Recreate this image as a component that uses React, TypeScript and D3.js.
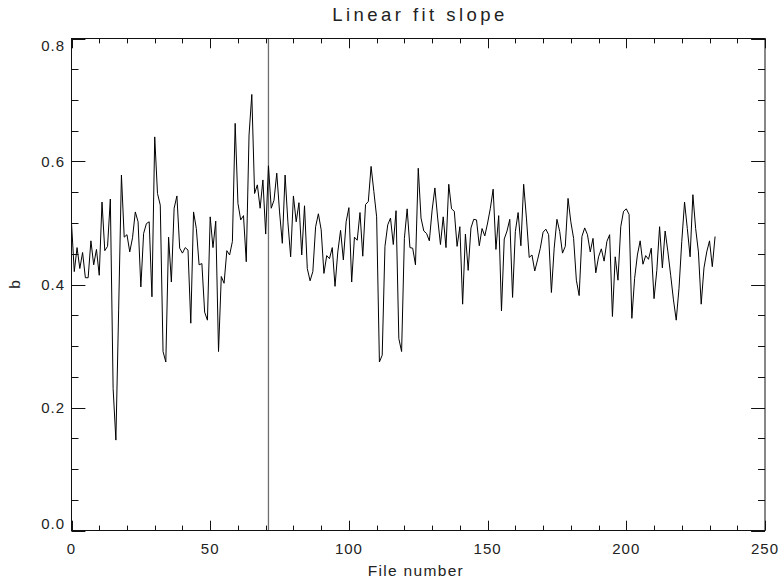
import React from 'react';
import * as d3 from 'd3';

// b values (linear fit slope) per file number 0..232
const slopeValues: number[] = [
  0.500, 0.421, 0.460, 0.426, 0.452, 0.411, 0.411, 0.471, 0.432, 0.457,
  0.415, 0.534, 0.455, 0.462, 0.539, 0.231, 0.147, 0.360, 0.578, 0.477,
  0.481, 0.453, 0.476, 0.518, 0.502, 0.396, 0.483, 0.499, 0.502, 0.380,
  0.640, 0.548, 0.529, 0.291, 0.274, 0.477, 0.404, 0.524, 0.544, 0.459,
  0.451, 0.460, 0.456, 0.337, 0.518, 0.491, 0.432, 0.434, 0.355, 0.342,
  0.510, 0.460, 0.503, 0.291, 0.413, 0.402, 0.455, 0.448, 0.470, 0.662,
  0.532, 0.505, 0.512, 0.437, 0.643, 0.709, 0.548, 0.562, 0.524, 0.570,
  0.482, 0.593, 0.524, 0.537, 0.581, 0.518, 0.467, 0.578, 0.502, 0.445,
  0.544, 0.502, 0.533, 0.448, 0.528, 0.426, 0.406, 0.421, 0.494, 0.515,
  0.489, 0.418, 0.447, 0.442, 0.460, 0.397, 0.453, 0.488, 0.440, 0.502,
  0.525, 0.404, 0.477, 0.472, 0.517, 0.446, 0.530, 0.535, 0.592, 0.551,
  0.510, 0.274, 0.285, 0.462, 0.497, 0.508, 0.465, 0.520, 0.312, 0.291,
  0.475, 0.523, 0.460, 0.459, 0.432, 0.589, 0.508, 0.487, 0.483, 0.471,
  0.521, 0.557, 0.508, 0.465, 0.510, 0.460, 0.563, 0.523, 0.519, 0.462,
  0.494, 0.368, 0.482, 0.423, 0.492, 0.506, 0.505, 0.463, 0.491, 0.479,
  0.500, 0.524, 0.555, 0.457, 0.512, 0.357, 0.474, 0.487, 0.506, 0.379,
  0.486, 0.517, 0.463, 0.563, 0.508, 0.444, 0.448, 0.422, 0.440, 0.459,
  0.485, 0.490, 0.481, 0.387, 0.459, 0.506, 0.486, 0.451, 0.462, 0.540,
  0.502, 0.475, 0.407, 0.382, 0.478, 0.492, 0.481, 0.453, 0.475, 0.419,
  0.445, 0.458, 0.438, 0.470, 0.481, 0.348, 0.445, 0.407, 0.494, 0.519,
  0.523, 0.514, 0.345, 0.410, 0.448, 0.471, 0.433, 0.447, 0.441, 0.459,
  0.377, 0.423, 0.494, 0.427, 0.487, 0.453, 0.415, 0.375, 0.342, 0.394,
  0.470, 0.534, 0.491, 0.445, 0.546, 0.491, 0.453, 0.368, 0.427, 0.453,
  0.471, 0.429, 0.478,
];

const xDomain: [number, number] = [0, 250];
const yDomain: [number, number] = [0, 0.8];
const xMajorTicks = [0, 50, 100, 150, 200, 250];
const yMajorTicks = [0, 0.2, 0.4, 0.6, 0.8];
const xMinorStep = 10;
const yMinorStep = 0.05;
const markerFile = 71;
const titleText = 'Linear fit slope';
const xTitleText = 'File number';
const yTitleText = 'b';

export default function App() {
  const W = 782;
  const H = 581;
  const left = 71.5, right = 765, top = 38.5, bottom = 530.5;
  const x = d3.scaleLinear().domain(xDomain).range([left, right]);
  const y = d3.scaleLinear().domain(yDomain).range([bottom, top]);

  const line = d3.line<number>().x((_, i) => x(i)).y((d) => y(d));

  const xMinor = d3.range(xDomain[0], xDomain[1] + 0.001, xMinorStep);
  const yMinor = d3.range(0, Math.round((yDomain[1] - yDomain[0]) / yMinorStep) + 1).map((k) => yDomain[0] + k * yMinorStep);

  const xMajLen = 9.8, xMinLen = 4.9, yMajLen = 13.9, yMinLen = 7;
  const isMajorX = (v: number) => xMajorTicks.some((t) => Math.abs(t - v) < 1e-6);
  const isMajorY = (v: number) => yMajorTicks.some((t) => Math.abs(t - v) < 1e-6);

  const axisColor = '#111';
  const font = '"Liberation Sans", Arial, sans-serif';

  return (
    <svg width={W} height={H} style={{ position: 'absolute', left: 0, top: 0, background: '#fff' }}>
      <rect x={0} y={0} width={W} height={H} fill="#fff" />
      {/* marker line */}
      <line x1={x(markerFile)} x2={x(markerFile)} y1={top} y2={bottom} stroke="#6e6e6e" strokeWidth={1.3} />
      {/* data */}
      <path d={line(slopeValues) || ''} fill="none" stroke="#000" strokeWidth={1} strokeLinejoin="miter" />
      {/* box */}
      <rect x={left} y={top} width={right - left} height={bottom - top} fill="none" stroke={axisColor} strokeWidth={1} />
      {/* x ticks bottom & top */}
      {xMinor.map((v) => {
        const len = isMajorX(v) ? xMajLen : xMinLen;
        const px = Math.round(x(v)) + 0.5;
        return (
          <g key={'xt' + v}>
            <line x1={px} x2={px} y1={bottom} y2={bottom - len} stroke={axisColor} strokeWidth={1} />
            <line x1={px} x2={px} y1={top} y2={top + len} stroke={axisColor} strokeWidth={1} />
          </g>
        );
      })}
      {/* y ticks left & right */}
      {yMinor.map((v) => {
        const len = isMajorY(v) ? yMajLen : yMinLen;
        const py = Math.round(y(v)) + 0.5;
        return (
          <g key={'yt' + v.toFixed(2)}>
            <line x1={left} x2={left + len} y1={py} y2={py} stroke={axisColor} strokeWidth={1} />
            <line x1={right} x2={right - len} y1={py} y2={py} stroke={axisColor} strokeWidth={1} />
          </g>
        );
      })}
      {/* x tick labels */}
      {xMajorTicks.map((v) => (
        <text key={'xl' + v} x={x(v)} y={554} textAnchor="middle" fontFamily={font} fontSize={15} letterSpacing={1} fill="#222">
          {String(v)}
        </text>
      ))}
      {/* y tick labels */}
      {yMajorTicks.map((v) => {
        const c = Math.min(Math.max(y(v), top + 7), bottom - 7);
        return (
          <text key={'yl' + v} x={65} y={c + 5.5} textAnchor="end" fontFamily={font} fontSize={15} letterSpacing={1} fill="#222">
            {d3.format('.1f')(v)}
          </text>
        );
      })}
      {/* titles */}
      <text x={(left + right) / 2} y={21} textAnchor="middle" fontFamily={font} fontSize={18.5} fill="#222" textLength={172} lengthAdjust="spacing">
        {titleText}
      </text>
      <text x={(left + right) / 2 - 3} y={576} textAnchor="middle" fontFamily={font} fontSize={15.5} fill="#222" textLength={95} lengthAdjust="spacing">
        {xTitleText}
      </text>
      <text transform={`translate(20, ${(top + bottom) / 2}) rotate(-90)`} textAnchor="middle" fontFamily={font} fontSize={15.5} fill="#222">
        {yTitleText}
      </text>
    </svg>
  );
}
